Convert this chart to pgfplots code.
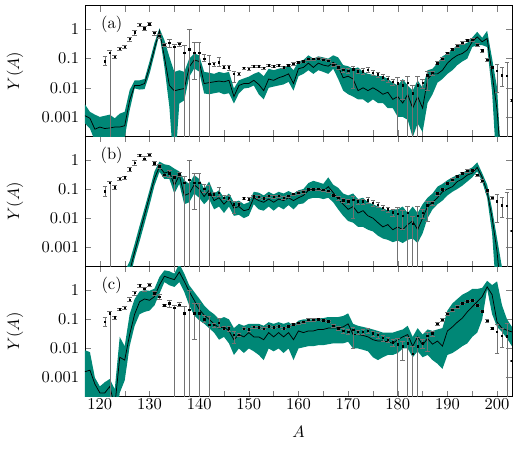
\documentclass[border=0pt]{standalone}
\usepackage{pgfplots}
\usepackage{pgfplotstable}
\usepgfplotslibrary{groupplots,fillbetween}
\usetikzlibrary{calc}
\pgfplotsset{compat=1.18}
\definecolor{bandc}{RGB}{0,135,118}

\pgfplotstableread{
A Y lo hi
121 0.082 0.057 0.12
122 0.16 0.000001 0.19
123 0.115 0.10 0.13
124 0.22 0.20 0.245
125 0.25 0.22 0.28
126 0.47 0.40 0.55
127 0.80 0.65 0.95
128 1.45 1.3 1.6
129 1.10 0.95 1.3
130 1.50 1.35 1.7
131 0.77 0.65 0.9
132 0.6 0.5 0.7
133 0.30 0.27 0.33
134 0.35 0.25 0.45
135 0.25 0.000001 0.30
136 0.32 0.27 0.37
137 0.16 0.000001 0.28
138 0.21 0.000001 1.0
139 0.16 0.02 0.35
140 0.16 0.000001 0.35
141 0.10 0.08 0.14
142 0.065 0.000001 0.13
143 0.065 0.055 0.075
144 0.075 0.055 0.11
145 0.05 0.045 0.06
146 0.05 0.04 0.06
147 0.03 0.015 0.038
148 0.03 0.027 0.034
149 0.048 0.044 0.052
150 0.045 0.04 0.05
151 0.055 0.05 0.06
152 0.054 0.049 0.059
153 0.048 0.044 0.052
154 0.058 0.053 0.063
155 0.054 0.049 0.059
156 0.058 0.053 0.063
157 0.05 0.045 0.055
158 0.058 0.053 0.063
159 0.067 0.061 0.073
160 0.075 0.068 0.082
161 0.081 0.074 0.088
162 0.097 0.089 0.105
163 0.097 0.089 0.105
164 0.10 0.092 0.108
165 0.092 0.085 0.1
166 0.085 0.078 0.092
167 0.061 0.055 0.067
168 0.05 0.042 0.058
169 0.041 0.034 0.048
170 0.038 0.031 0.045
171 0.043 0.01 0.055
172 0.037 0.031 0.043
173 0.037 0.03 0.045
174 0.041 0.033 0.05
175 0.033 0.026 0.04
176 0.029 0.023 0.035
177 0.023 0.018 0.028
178 0.020 0.016 0.024
179 0.016 0.012 0.02
180 0.014 0.000001 0.023
181 0.012 0.004 0.018
182 0.015 0.000001 0.025
183 0.0065 0.000001 0.012
184 0.012 0.000001 0.025
185 0.015 0.01 0.02
186 0.027 0.008 0.037
187 0.033 0.027 0.038
188 0.07 0.063 0.078
189 0.097 0.088 0.107
190 0.155 0.14 0.17
191 0.21 0.19 0.23
192 0.27 0.245 0.3
193 0.35 0.32 0.38
194 0.42 0.38 0.46
195 0.44 0.4 0.48
196 0.30 0.27 0.33
197 0.19 0.17 0.21
198 0.09 0.08 0.1
199 0.05 0.045 0.055
200 0.038 0.007 0.065
201 0.027 0.011 0.05
202 0.026 0.000001 0.075
203 0.0037 0.0035 0.0039
}\expdata

\pgfplotstableread{
A U M L
117 0.0027 0.0011 0.0006
118 0.0015 0.0009 0.0004
119 0.0012 0.00038 0.00015
120 0.001 0.00045 0.0002
121 0.0011 0.0004 0.00018
122 0.0012 0.00042 0.00015
123 0.0009 0.00045 0.0001
124 0.0013 0.00045 0.0001
125 0.0015 0.0005 0.0002
126 0.0083 0.0037 0.0017
127 0.018 0.012 0.0095
128 0.018 0.012 0.0087
129 0.02 0.014 0.009
130 0.08 0.05 0.03
131 0.35 0.22 0.14
132 1.1 0.9 0.7
133 0.43 0.115 0.052
134 0.115 0.012 0.0022
135 0.035 0.0079 0.00001
136 0.04 0.0087 0.0029
137 0.035 0.0094 0.0037
138 0.1 0.052 0.024
139 0.15 0.09 0.046
140 0.13 0.08 0.036
141 0.035 0.014 0.0064
142 0.033 0.015 0.006
143 0.03 0.016 0.0065
144 0.035 0.017 0.007
145 0.032 0.016 0.006
146 0.035 0.018 0.0065
147 0.0095 0.005 0.0029
148 0.018 0.012 0.0064
149 0.021 0.014 0.0095
150 0.024 0.014 0.01
151 0.03 0.018 0.012
152 0.035 0.013 0.006
153 0.025 0.008 0.004
154 0.045 0.02 0.01
155 0.04 0.018 0.011
156 0.045 0.022 0.012
157 0.05 0.025 0.013
158 0.06 0.03 0.016
159 0.04 0.014 0.008
160 0.08 0.045 0.025
161 0.09 0.05 0.03
162 0.13 0.07 0.04
163 0.1 0.05 0.03
164 0.12 0.07 0.04
165 0.11 0.06 0.035
166 0.1 0.055 0.03
167 0.13 0.075 0.045
168 0.11 0.055 0.02
169 0.06 0.022 0.008
170 0.055 0.025 0.006
171 0.045 0.02 0.005
172 0.05 0.008 0.004
173 0.035 0.01 0.004
174 0.03 0.008 0.003
175 0.028 0.01 0.004
176 0.025 0.008 0.003
177 0.025 0.006 0.003
178 0.02 0.007 0.002
179 0.015 0.004 0.002
180 0.012 0.005 0.001
181 0.02 0.003 0.001
182 0.012 0.006 0.0008
183 0.008 0.002 0.0002
184 0.018 0.005 0.0006
185 0.01 0.002 0.0003
186 0.04 0.02 0.003
187 0.045 0.03 0.006
188 0.07 0.03 0.015
189 0.12 0.04 0.02
190 0.15 0.07 0.03
191 0.2 0.1 0.04
192 0.3 0.13 0.06
193 0.3 0.15 0.08
194 0.35 0.2 0.1
195 0.53 0.38 0.25
196 0.83 0.56 0.29
197 0.52 0.38 0.29
198 0.9 0.49 0.25
199 0.1 0.03 0.007
200 0.01 0.0017 0.00001
201 0.00001 0.00001 0.00001
202 0.00001 0.00001 0.00001
203 0.00001 0.00001 0.00001
}\banda

\pgfplotstableread{
A U M L
117 0.00001 0.00001 0.00001
118 0.00001 0.00001 0.00001
119 0.00001 0.00001 0.00001
120 0.00001 0.00001 0.00001
121 0.00001 0.00001 0.00001
122 0.00001 0.00001 0.00001
123 0.00001 0.00001 0.00001
124 0.00008 0.00004 0.00002
125 0.00015 0.00008 0.00004
126 0.00033 0.00015 0.00008
127 0.0013 0.0007 0.00042
128 0.0055 0.003 0.0016
129 0.022 0.013 0.0066
130 0.09 0.055 0.028
131 0.4 0.23 0.13
132 0.87 0.58 0.39
133 0.7 0.35 0.22
134 0.65 0.4 0.22
135 0.5 0.13 0.07
136 0.4 0.3 0.15
137 0.2 0.06 0.03
138 0.15 0.07 0.035
139 0.3 0.14 0.07
140 0.22 0.1 0.05
141 0.1 0.055 0.03
142 0.18 0.09 0.045
143 0.07 0.04 0.02
144 0.09 0.05 0.025
145 0.05 0.03 0.015
146 0.07 0.045 0.025
147 0.035 0.022 0.012
148 0.04 0.025 0.013
149 0.03 0.018 0.01
150 0.035 0.02 0.012
151 0.08 0.05 0.03
152 0.075 0.04 0.02
153 0.06 0.035 0.018
154 0.08 0.045 0.025
155 0.065 0.035 0.018
156 0.08 0.045 0.025
157 0.07 0.04 0.02
158 0.085 0.05 0.028
159 0.07 0.04 0.02
160 0.09 0.05 0.03
161 0.1 0.06 0.032
162 0.16 0.09 0.045
163 0.19 0.1 0.05
164 0.17 0.1 0.05
165 0.15 0.085 0.045
166 0.25 0.12 0.05
167 0.14 0.075 0.035
168 0.11 0.045 0.02
169 0.07 0.03 0.012
170 0.06 0.02 0.008
171 0.07 0.025 0.007
172 0.045 0.015 0.005
173 0.05 0.018 0.005
174 0.035 0.012 0.004
175 0.03 0.01 0.0035
176 0.025 0.007 0.0025
177 0.022 0.005 0.002
178 0.018 0.006 0.0018
179 0.02 0.004 0.0015
180 0.02 0.005 0.0017
181 0.025 0.004 0.0014
182 0.015 0.006 0.0018
183 0.025 0.008 0.002
184 0.015 0.004 0.0014
185 0.03 0.01 0.003
186 0.05 0.025 0.01
187 0.07 0.035 0.02
188 0.12 0.05 0.03
189 0.15 0.08 0.04
190 0.2 0.1 0.06
191 0.25 0.12 0.08
192 0.3 0.18 0.1
193 0.35 0.22 0.13
194 0.45 0.3 0.18
195 0.55 0.35 0.25
196 0.82 0.55 0.4
197 0.35 0.25 0.18
198 0.14 0.08 0.05
199 0.02 0.01 0.003
200 0.002 0.0007 0.00001
201 0.0002 0.00001 0.00001
202 0.00001 0.00001 0.00001
203 0.00001 0.00001 0.00001
}\bandb

\pgfplotstableread{
A U M L
117 0.0087 0.0016 0.00001
118 0.0075 0.0018 0.00001
119 0.001 0.0006 0.00001
120 0.0005 0.0003 0.00001
121 0.0007 0.0003 0.00001
122 0.0009 0.0005 0.00001
123 0.0004 0.0001 0.00001
124 0.025 0.005 0.0003
125 0.012 0.004 0.0008
126 0.15 0.03 0.012
127 0.5 0.15 0.06
128 0.9 0.4 0.15
129 1.0 0.5 0.18
130 0.95 0.45 0.2
131 1.13 0.6 0.3
132 2.85 1.5 0.76
133 4.8 3.0 1.9
134 4.45 2.6 1.47
135 3.7 2.3 1.29
136 8.0 4.2 1.9
137 3.7 2.0 0.87
138 1.47 0.9 0.3
139 0.87 0.45 0.137
140 0.52 0.22 0.093
141 0.3 0.14 0.071
142 0.2 0.1 0.05
143 0.15 0.07 0.035
144 0.1 0.05 0.02
145 0.12 0.055 0.025
146 0.1 0.04 0.015
147 0.05 0.02 0.006
148 0.07 0.03 0.01
149 0.06 0.025 0.007
150 0.07 0.035 0.01
151 0.07 0.025 0.008
152 0.07 0.025 0.006
153 0.06 0.02 0.004
154 0.08 0.035 0.01
155 0.07 0.025 0.008
156 0.08 0.035 0.01
157 0.07 0.025 0.007
158 0.08 0.035 0.01
159 0.06 0.02 0.004
160 0.09 0.04 0.01
161 0.1 0.035 0.011
162 0.1 0.04 0.012
163 0.1 0.04 0.012
164 0.11 0.045 0.013
165 0.11 0.045 0.013
166 0.12 0.05 0.014
167 0.12 0.05 0.015
168 0.12 0.05 0.015
169 0.13 0.055 0.015
170 0.16 0.07 0.017
171 0.07 0.03 0.01
172 0.06 0.03 0.01
173 0.055 0.028 0.009
174 0.05 0.025 0.008
175 0.045 0.02 0.005
176 0.04 0.018 0.004
177 0.035 0.018 0.005
178 0.035 0.017 0.006
179 0.035 0.015 0.006
180 0.04 0.02 0.007
181 0.045 0.025 0.01
182 0.06 0.03 0.01
183 0.025 0.012 0.005
184 0.05 0.025 0.008
185 0.03 0.013 0.005
186 0.045 0.022 0.006
187 0.04 0.014 0.004
188 0.045 0.018 0.003
189 0.05 0.012 0.002
190 0.2 0.04 0.006
191 0.35 0.055 0.007
192 0.5 0.08 0.009
193 0.7 0.11 0.012
194 0.85 0.18 0.015
195 1.1 0.27 0.025
196 1.1 0.4 0.035
197 1.2 0.6 0.1
198 2.1 1.3 1.1
199 1.5 0.7 0.15
200 2.0 0.08 0.055
201 0.3 0.05 0.037
202 0.1 0.042 0.022
203 0.055 0.037 0.012
}\bandc

\pgfplotsset{
  expstyle/.style={only marks, mark=square*, mark size=0.45pt, black,
    error bars/.cd, y dir=both, y explicit,
    error bar style={black!55, line width=0.35pt},
    error mark options={black!55, rotate=90, mark size=1.4pt, line width=0.35pt}},
}

\begin{document}
\begin{tikzpicture}
\begin{groupplot}[
  group style={group size=1 by 3, vertical sep=0pt, x descriptions at=edge bottom},
  width=258.8pt, height=79pt, scale only axis,
  xmin=117, xmax=203, ymode=log, ymin=2.2e-4, ymax=6.5,
  xtick={120,130,...,200}, minor xtick={125,135,...,195},
  ytick={0.001,0.01,0.1,1}, yticklabels={0.001,0.01,0.1,1},
  yminorticks=false,
  tick align=inside,
  major tick length=3.5pt, minor tick length=3.5pt,
  ylabel={$Y(A)$},
  y label style={at={(axis description cs:-0.164,0.5)},anchor=center},
  x label style={at={(axis description cs:0.5,-0.27)},anchor=center},
  xticklabel style={yshift=2pt},
  axis line style={line width=0.5pt},
]
\nextgroupplot
\addplot[name path=Ua, draw=none, forget plot] table[x=A,y=U]{\banda};
\addplot[name path=La, draw=none, forget plot] table[x=A,y=L]{\banda};
\addplot[bandc, draw=none] fill between[of=Ua and La];
\addplot[black, line width=0.45pt] table[x=A,y=M]{\banda};
\addplot[expstyle] table[x=A, y=Y, y error plus expr=\thisrow{hi}-\thisrow{Y}, y error minus expr=\thisrow{Y}-\thisrow{lo}]{\expdata};
\node at (axis description cs:0.0625,0.855) {(a)};

\nextgroupplot
\addplot[name path=Ub, draw=none, forget plot] table[x=A,y=U]{\bandb};
\addplot[name path=Lb, draw=none, forget plot] table[x=A,y=L]{\bandb};
\addplot[bandc, draw=none] fill between[of=Ub and Lb];
\addplot[black, line width=0.45pt] table[x=A,y=M]{\bandb};
\addplot[expstyle] table[x=A, y=Y, y error plus expr=\thisrow{hi}-\thisrow{Y}, y error minus expr=\thisrow{Y}-\thisrow{lo}]{\expdata};
\node at (axis description cs:0.0625,0.855) {(b)};

\nextgroupplot[xlabel={$A$}]
\addplot[name path=Uc, draw=none, forget plot] table[x=A,y=U]{\bandc};
\addplot[name path=Lc, draw=none, forget plot] table[x=A,y=L]{\bandc};
\addplot[bandc, draw=none] fill between[of=Uc and Lc];
\addplot[black, line width=0.45pt] table[x=A,y=M]{\bandc};
\addplot[expstyle] table[x=A, y=Y, y error plus expr=\thisrow{hi}-\thisrow{Y}, y error minus expr=\thisrow{Y}-\thisrow{lo}]{\expdata};
\node at (axis description cs:0.0625,0.855) {(c)};
\end{groupplot}
\pgfresetboundingbox
\path ($(group c1r1.north west)+(-51.5pt,3.5pt)$) rectangle ($(group c1r3.south east)+(7.9pt,-32.3pt)$);
\end{tikzpicture}
\end{document}
